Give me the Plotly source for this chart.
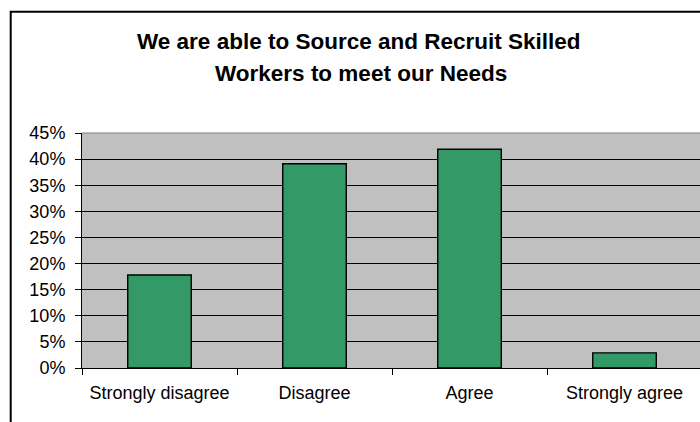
import plotly.graph_objects as go

categories = ["Strongly disagree", "Disagree", "Agree", "Strongly agree"]
values = [0.178, 0.391, 0.419, 0.029]
title_lines = ["We are able to Source and Recruit Skilled", "Workers to meet our Needs"]
y_ticks = [0, 0.05, 0.10, 0.15, 0.20, 0.25, 0.30, 0.35, 0.40, 0.45]

W, H = 700, 422
L, R, T, B = 82, 0, 133, 54
pw = W - L - R
ph = H - T - B

def px_x(x):
    return (x - L) / pw

def px_y(y):
    return (H - B - y) / ph

fig = go.Figure()
fig.add_trace(go.Bar(
    x=categories, y=values, width=0.41,
    marker=dict(color="#339966", line=dict(color="#000000", width=1.4)),
))

font = "Liberation Sans, Arial, sans-serif"
fig.update_layout(
    width=W, height=H,
    margin=dict(l=L, r=R, t=T, b=B, pad=0),
    paper_bgcolor="white", plot_bgcolor="#C0C0C0",
    showlegend=False,
    font=dict(family=font, size=18, color="#000000"),
    xaxis=dict(
        type="category", range=[-0.5, 3.487], tickson="boundaries",
        ticks="outside", ticklen=6, tickcolor="#000000", tickwidth=1,
        showline=True, linecolor="#000000", linewidth=1,
        showgrid=False, fixedrange=True, ticklabelstandoff=8,
        tickfont=dict(family=font, size=18, color="#000000"),
    ),
    yaxis=dict(
        range=[0, 0.45], tickvals=y_ticks, tickformat=".0%",
        ticks="outside", ticklen=6, tickcolor="#000000", tickwidth=1,
        showline=True, linecolor="#000000", linewidth=1,
        showgrid=True, gridcolor="#000000", gridwidth=1,
        zeroline=False, ticklabelstandoff=6,
        tickfont=dict(family=font, size=18, color="#000000"),
    ),
    shapes=[
        dict(type="line", xref="paper", yref="paper", x0=0, x1=1, y0=1, y1=1,
             line=dict(color="#808080", width=1), layer="above"),
        dict(type="rect", xref="paper", yref="paper",
             x0=px_x(10.7), x1=1.1, y0=-0.5, y1=px_y(11.7),
             line=dict(color="#000000", width=2), fillcolor="rgba(0,0,0,0)",
             layer="above"),
    ],
    annotations=[
        dict(text="<b>%s</b>" % title_lines[0], xref="paper", yref="paper",
             x=px_x(358), y=px_y(41.3), xanchor="center", yanchor="middle",
             showarrow=False, font=dict(family=font, size=22.5, color="#000000")),
        dict(text="<b>%s</b>" % title_lines[1], xref="paper", yref="paper",
             x=px_x(361), y=px_y(73.4), xanchor="center", yanchor="middle",
             showarrow=False, font=dict(family=font, size=22.5, color="#000000")),
    ],
)

fig.write_html("out.html")
